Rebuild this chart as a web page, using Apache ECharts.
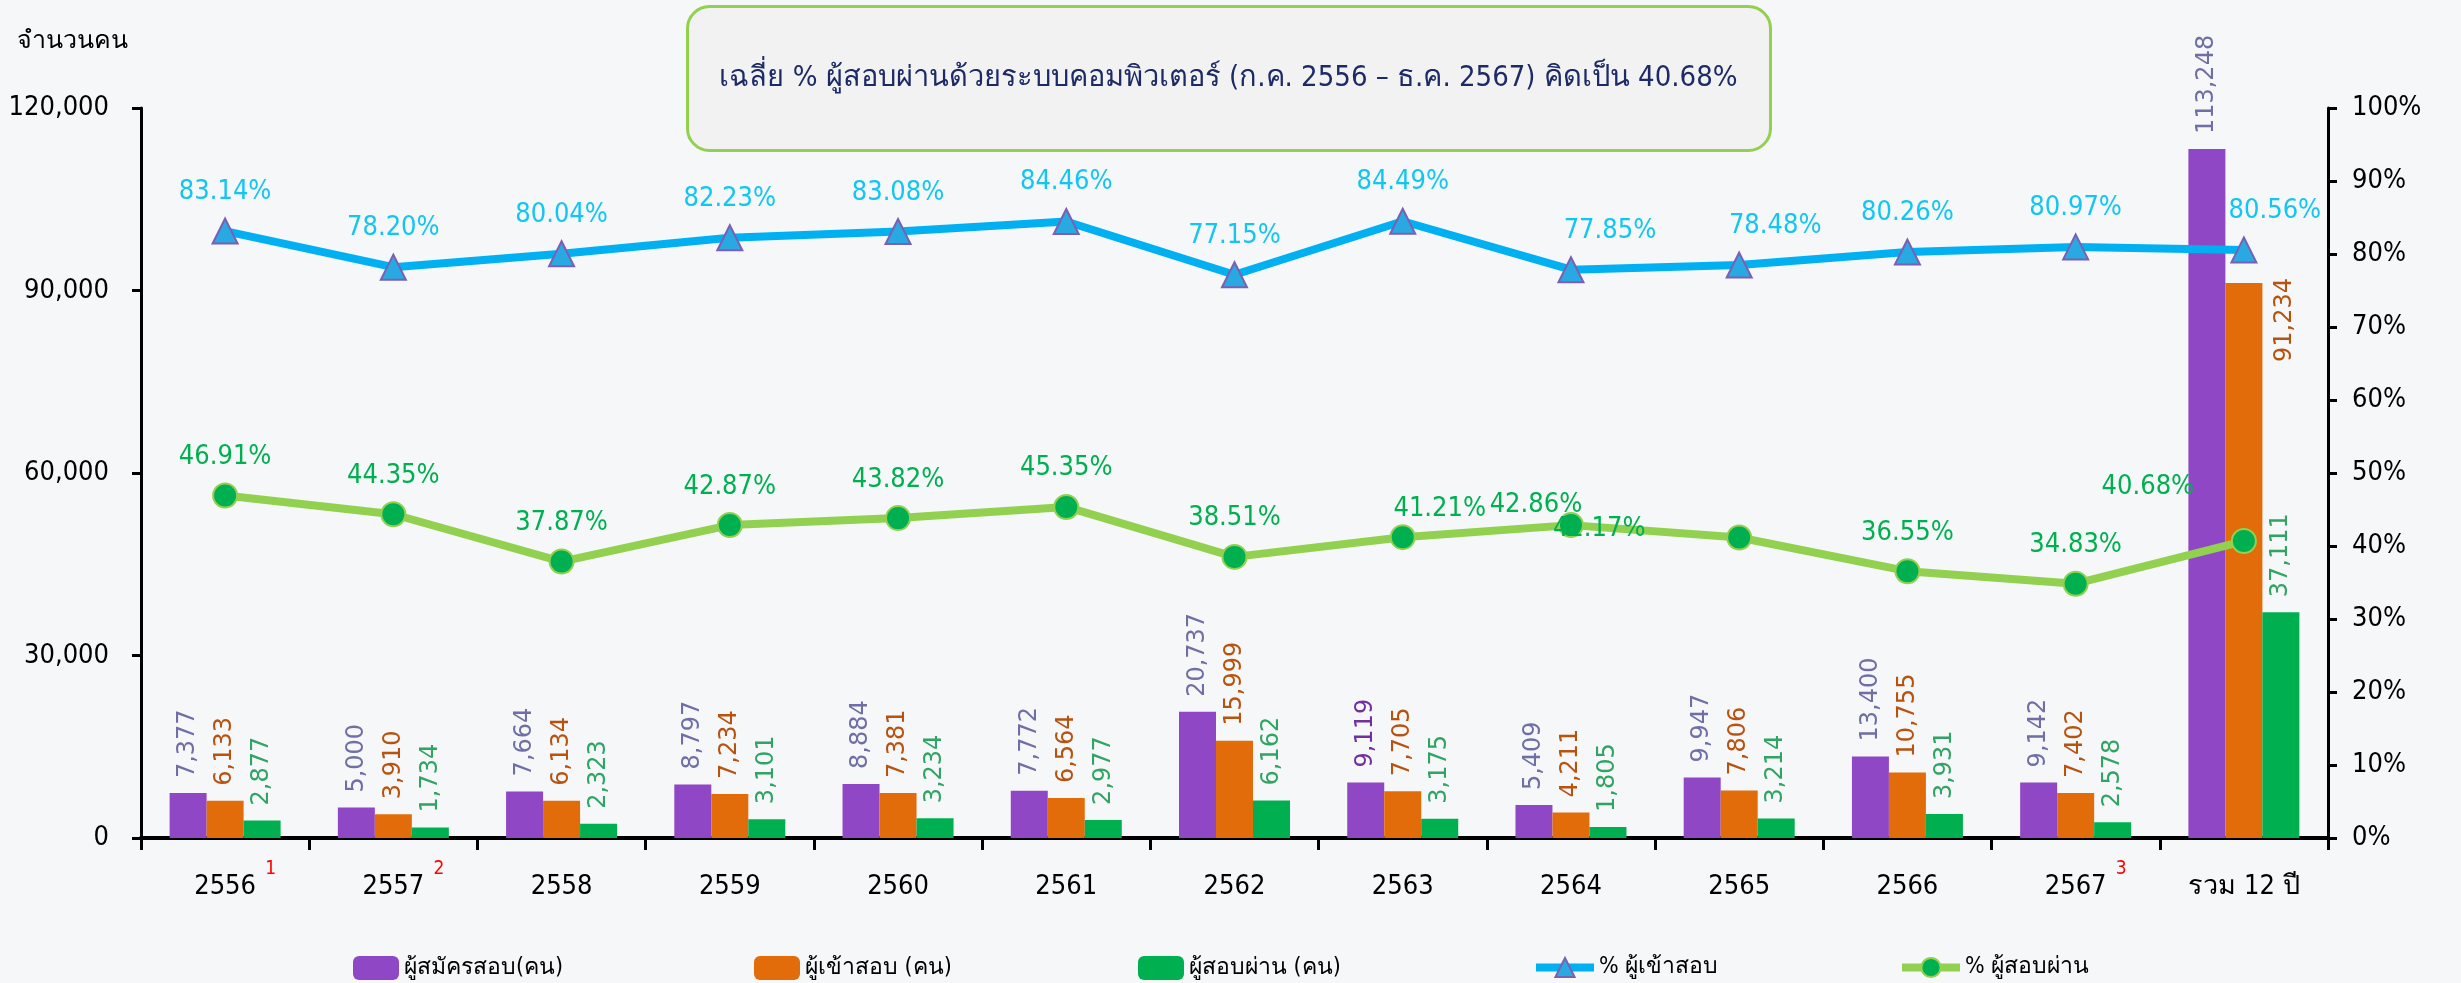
<!DOCTYPE html>
<html>
<head>
<meta charset="utf-8">
<script src="https://cdn.jsdelivr.net/npm/echarts@6/dist/echarts.min.js"></script>
<style>
  html, body { margin: 0; padding: 0; background: #f6f7f9; }
  #chart { width: 2461px; height: 983px; }
</style>
</head>
<body>
<div id="chart"></div>
<script>
// ข้อมูลจากกราฟ
var years = ['2556', '2557', '2558', '2559', '2560', '2561', '2562', '2563', '2564', '2565', '2566', '2567', 'รวม 12 ปี'];
var footnotes = ['1', '2', '', '', '', '', '', '', '', '', '', '3', ''];
var applicants = [7377, 5000, 7664, 8797, 8884, 7772, 20737, 9119, 5409, 9947, 13400, 9142, 113248];
var examinees = [6133, 3910, 6134, 7234, 7381, 6564, 15999, 7705, 4211, 7806, 10755, 7402, 91234];
var passed = [2877, 1734, 2323, 3101, 3234, 2977, 6162, 3175, 1805, 3214, 3931, 2578, 37111];
var pctAttend = [83.14, 78.20, 80.04, 82.23, 83.08, 84.46, 77.15, 84.49, 77.85, 78.48, 80.26, 80.97, 80.56];
var pctPass = [46.91, 44.35, 37.87, 42.87, 43.82, 45.35, 38.51, 41.21, 42.86, 41.17, 36.55, 34.83, 40.68];
var seriesNames = ['ผู้สมัครสอบ(คน)', 'ผู้เข้าสอบ (คน)', 'ผู้สอบผ่าน (คน)', '% ผู้เข้าสอบ', '% ผู้สอบผ่าน'];
var headline = 'เฉลี่ย % ผู้สอบผ่านด้วยระบบคอมพิวเตอร์ (ก.ค. 2556 – ธ.ค. 2567) คิดเป็น 40.68%';

var cond = '"DejaVu Sans Condensed", "DejaVu Sans", sans-serif';
var wide = '"DejaVu Sans", sans-serif';

// ป้ายที่ถูกเลื่อนตำแหน่งในภาพต้นฉบับ
var attendLabelShift = { 8: [39, 0], 9: [36, 0], 12: [31, 0] };
var passLabelShift = { 7: [37, 10], 8: [-35, 18], 9: [-140, 30], 12: [-96, -16] };

function fmt(v) {
    return v.toString().replace(/\B(?=(\d{3})+(?!\d))/g, ',');
}

function withShift(values, shifts) {
    return values.map(function (v, i) {
        if (shifts[i]) return { value: v, label: { offset: shifts[i] } };
        return v;
    });
}

function barLabel(color) {
    return {
        show: true,
        position: ['50%', -15],
        rotate: 90,
        align: 'left',
        verticalAlign: 'middle',
        fontFamily: wide,
        fontSize: 24,
        color: color,
        formatter: function (p) { return fmt(p.value); }
    };
}

var chart = echarts.init(document.getElementById('chart'));

var legendLefts = [348, 749, 1133, 1527, 1893];
var legends = seriesNames.map(function (name, i) {
    return {
        left: legendLefts[i],
        top: 951,
        itemWidth: i < 3 ? 46 : 58,
        itemHeight: 24,
        itemGap: 6,
        lineStyle: { width: 8 },
        data: [name],
        textStyle: { fontFamily: cond, fontSize: 23, color: '#000' }
    };
});

var option = {
    animation: false,
    backgroundColor: '#f6f7f9',
    textStyle: { fontFamily: cond },
    grid: { left: 141, right: 133, top: 108, bottom: 145 },
    legend: legends,
    graphic: [{
        type: 'group',
        left: 686,
        top: 5,
        children: [{
            type: 'rect',
            shape: { x: 0, y: 0, width: 1083, height: 144, r: 22 },
            style: { fill: '#f2f2f2', stroke: '#92d050', lineWidth: 3 }
        }, {
            type: 'text',
            x: 541,
            y: 72,
            style: {
                text: headline,
                fill: '#1c2a66',
                fontFamily: cond,
                fontSize: 29,
                align: 'center',
                verticalAlign: 'middle'
            }
        }]
    }],
    xAxis: {
        type: 'category',
        data: years,
        axisLine: { lineStyle: { color: '#000', width: 4 } },
        axisTick: { show: true, length: 12, lineStyle: { color: '#000', width: 3 } },
        axisLabel: {
            interval: 0,
            margin: 18,
            formatter: function (v, i) {
                if (footnotes[i]) return '{sp| }{a|' + v + '}{s|' + footnotes[i] + '}';
                return '{a|' + v + '}';
            },
            rich: {
                a: { fontFamily: cond, fontSize: 27, color: '#000', lineHeight: 62 },
                sp: { width: 20, fontSize: 10 },
                s: { fontFamily: cond, fontSize: 19, color: '#ff0000', width: 20, align: 'right', padding: [0, 0, 36, 0] }
            }
        }
    },
    yAxis: [{
        type: 'value',
        min: 0,
        max: 120000,
        interval: 30000,
        name: 'จำนวนคน',
        nameLocation: 'end',
        nameGap: 54,
        nameTextStyle: { fontFamily: cond, fontSize: 25, color: '#000', align: 'right', padding: [0, 13, 0, 0] },
        axisLine: { show: true, lineStyle: { color: '#000', width: 3 } },
        axisTick: { show: true, length: 9, lineStyle: { color: '#000', width: 3 } },
        splitLine: { show: false },
        axisLabel: { fontFamily: cond, fontSize: 27, color: '#000', margin: 32, formatter: fmt }
    }, {
        type: 'value',
        min: 0,
        max: 100,
        interval: 10,
        axisLine: { show: true, lineStyle: { color: '#000', width: 3 } },
        axisTick: { show: true, length: 9, lineStyle: { color: '#000', width: 3 } },
        splitLine: { show: false },
        axisLabel: { fontFamily: cond, fontSize: 27, color: '#000', margin: 24, formatter: '{value}%' }
    }],
    series: [{
        name: seriesNames[0],
        type: 'bar',
        barWidth: 37,
        barGap: '0%',
        itemStyle: { color: '#8f47c6' },
        label: barLabel('#6f6fa6'),
        data: applicants.map(function (v, i) {
            return i === 7 ? { value: v, label: { color: '#7030a0' } } : v;
        })
    }, {
        name: seriesNames[1],
        type: 'bar',
        barWidth: 37,
        itemStyle: { color: '#e36c0a' },
        label: barLabel('#b8520f'),
        data: examinees.map(function (v, i) {
            return i === 12 ? { value: v, label: { offset: [-94, 41] } } : v;
        })
    }, {
        name: seriesNames[2],
        type: 'bar',
        barWidth: 37,
        itemStyle: { color: '#00b050' },
        label: barLabel('#2fa463'),
        data: passed
    }, {
        name: seriesNames[3],
        type: 'line',
        yAxisIndex: 1,
        symbol: 'triangle',
        symbolSize: 25,
        lineStyle: { color: '#00b0f0', width: 8 },
        itemStyle: { color: '#29a9e1', borderColor: '#7b5fb5', borderWidth: 2 },
        label: {
            show: true,
            position: 'top',
            distance: 12,
            fontFamily: cond,
            fontSize: 27,
            color: '#13c6f2',
            formatter: function (p) { return p.value.toFixed(2) + '%'; }
        },
        data: withShift(pctAttend, attendLabelShift)
    }, {
        name: seriesNames[4],
        type: 'line',
        yAxisIndex: 1,
        symbol: 'circle',
        symbolSize: 24,
        lineStyle: { color: '#92d050', width: 8 },
        itemStyle: { color: '#00b050', borderColor: '#92d050', borderWidth: 2 },
        label: {
            show: true,
            position: 'top',
            distance: 12,
            fontFamily: cond,
            fontSize: 27,
            color: '#00b050',
            formatter: function (p) { return p.value.toFixed(2) + '%'; }
        },
        data: withShift(pctPass, passLabelShift)
    }]
};
chart.setOption(option);
</script>
</body>
</html>
